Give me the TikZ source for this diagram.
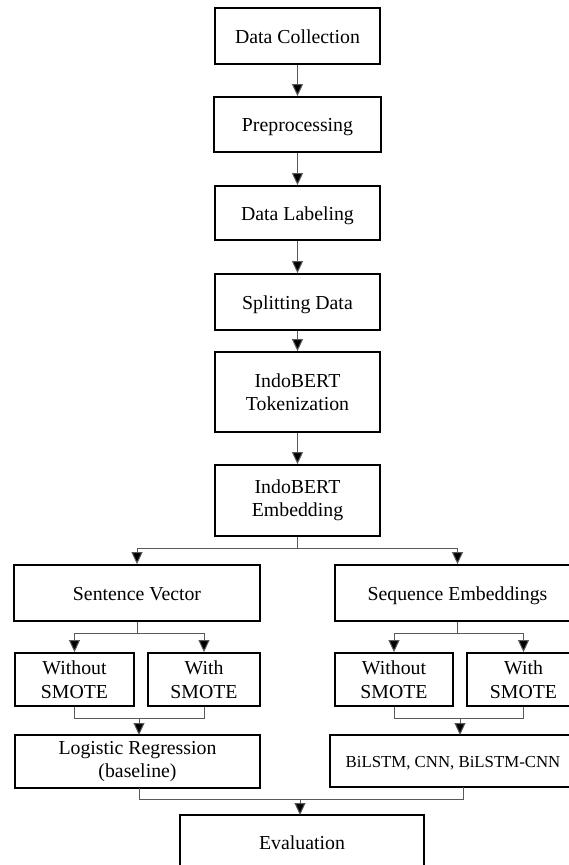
\documentclass[tikz,border=0pt]{standalone}
\usepackage{fontspec}
\setmainfont{Liberation Serif}
\usetikzlibrary{arrows.meta}
\begin{document}
\begin{tikzpicture}[x=1pt,y=-1pt,
  box/.style={draw=black,line width=1.8pt,inner sep=0pt,align=center,
    font=\fontsize{19.8}{23.5}\selectfont},
  single/.style={text height=14pt,text depth=0pt},
  conn/.style={draw=black!65,line width=1pt},
  arr/.style={conn,-{Triangle[length=12pt,width=11pt,fill=black]}}]
\useasboundingbox (0,0) rectangle (568,865);
\fill[white] (0,0) rectangle (568,865);
% main column
\node[box,single,minimum width=165pt,minimum height=56pt] (dc) at (297.5,36) {Data Collection};
\node[box,single,minimum width=167pt,minimum height=55pt] (pre) at (297.5,124.5) {Preprocessing};
\node[box,single,minimum width=165pt,minimum height=54pt] (lab) at (297.5,213) {Data Labeling};
\node[box,single,minimum width=165pt,minimum height=56pt] (spl) at (297.5,302) {Splitting Data};
\node[box,minimum width=165pt,minimum height=80pt] (tok) at (297.5,392) {IndoBERT\\Tokenization};
\node[box,minimum width=165pt,minimum height=71pt] (emb) at (297.5,500.5) {IndoBERT\\Embedding};
% branches
\node[box,single,minimum width=246pt,minimum height=56pt] (sv) at (137,593) {Sentence Vector};
\node[box,single,minimum width=245pt,minimum height=56pt] (se) at (457.5,593) {Sequence Embeddings};
\node[box,minimum width=119pt,minimum height=53pt] (wo1) at (74.5,679.5) {Without\\SMOTE};
\node[box,minimum width=112pt,minimum height=53pt] (w1) at (204,679.5) {With\\SMOTE};
\node[box,minimum width=118pt,minimum height=53pt] (wo2) at (394,679.5) {Without\\SMOTE};
\node[box,minimum width=113pt,minimum height=53pt] (w2) at (523.5,679.5) {With\\SMOTE};
\node[box,minimum width=245pt,minimum height=53pt] (lr) at (137.5,761.5) {\raisebox{-2pt}{\shortstack{Logistic Regression\\[2pt](baseline)}}};
\node[box,minimum width=246pt,minimum height=52pt,text height=12pt,text depth=0pt,font=\fontsize{16.8}{20}\selectfont] (bl) at (453,761) {BiLSTM, CNN, BiLSTM-CNN};
\node[box,single,minimum width=244pt,minimum height=54pt] (ev) at (302,842) {Evaluation};
% connectors main column
\draw[arr] (dc) -- (pre);
\draw[arr] (pre) -- (lab);
\draw[arr] (lab) -- (spl);
\draw[arr] (spl) -- (tok);
\draw[arr] (tok) -- (emb);
% split from embedding
\coordinate (eb) at (297.5,548);
\draw[conn] (emb.south) -- (eb);
\draw[arr] (eb) -| (sv.north);
\draw[arr] (eb) -| (se.north);
% split from sentence vector
\coordinate (svb) at (137,633);
\draw[conn] (sv.south) -- (svb);
\draw[arr] (svb) -| (wo1.north);
\draw[arr] (svb) -| (w1.north);
% split from sequence embeddings
\coordinate (seb) at (457.5,633);
\draw[conn] (se.south) -- (seb);
\draw[arr] (seb) -| (wo2.north);
\draw[arr] (seb) -| (w2.north);
% join into logistic regression
\coordinate (lj) at (139,718);
\coordinate (lrt) at (139,735);
\draw[conn] (wo1.south) |- (lj);
\draw[conn] (w1.south) |- (lj);
\draw[arr] (lj) -- (lrt);
% join into BiLSTM
\coordinate (rj) at (460,718);
\coordinate (blt) at (460,735);
\draw[conn] (wo2.south) |- (rj);
\draw[conn] (w2.south) |- (rj);
\draw[arr] (rj) -- (blt);
% join into evaluation
\coordinate (lrb) at (139,787.5);
\coordinate (blb) at (463,787);
\coordinate (ej) at (300,799);
\coordinate (evt) at (300,815);
\draw[conn] (lrb) |- (ej);
\draw[conn] (blb) |- (ej);
\draw[arr] (ej) -- (evt);
\end{tikzpicture}
\end{document}
